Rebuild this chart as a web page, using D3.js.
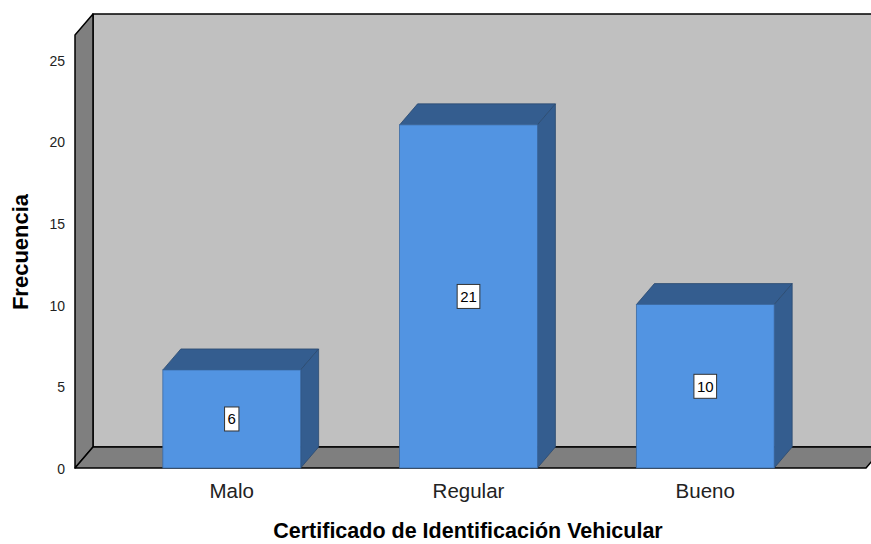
<!DOCTYPE html>
<html>
<head>
<meta charset="utf-8">
<script src="https://cdn.jsdelivr.net/npm/d3@7"></script>
<style>
  body { margin: 0; background: #fff; }
  text { font-family: Arial, "Liberation Sans", sans-serif; }
</style>
</head>
<body>
<div id="chart"></div>
<script>
// data
var categories = ['Malo', 'Regular', 'Bueno'];
var frequencies = [6, 21, 10];
var yTicks = [0, 5, 10, 15, 20, 25];

var width = 871, height = 544;
var depth = { x: 18, y: 21 };   // 3d offset of the back plane

var svg = d3.select('#chart').append('svg')
  .attr('width', width)
  .attr('height', height);

var x = d3.scaleBand()
  .domain(categories)
  .range([75, 862])
  .paddingInner(0.418)
  .paddingOuter(0.371);

var y = d3.scaleLinear()
  .domain([0, 26.5])
  .range([468, 35]);

var x0 = 75, x1 = 866;
var yTop = y(26.5), yBase = y(0);

// back wall
svg.append('rect')
  .attr('x', x0 + depth.x)
  .attr('y', yTop - depth.y)
  .attr('width', width)
  .attr('height', yBase - yTop)
  .attr('fill', '#c0c0c0')
  .attr('stroke', '#000')
  .attr('stroke-width', 1.5);

// left wall
svg.append('path')
  .attr('d', d3.line()([
    [x0, yTop], [x0 + depth.x, yTop - depth.y],
    [x0 + depth.x, yBase - depth.y], [x0, yBase]
  ]) + 'Z')
  .attr('fill', '#7f7f7f')
  .attr('stroke', '#000')
  .attr('stroke-width', 1.5)
  .attr('stroke-linejoin', 'round');

// floor
svg.append('path')
  .attr('d', d3.line()([
    [x0, yBase], [x0 + depth.x, yBase - depth.y],
    [x1 + depth.x, yBase - depth.y], [x1, yBase]
  ]) + 'Z')
  .attr('fill', '#7f7f7f')
  .attr('stroke', '#000')
  .attr('stroke-width', 1.5)
  .attr('stroke-linejoin', 'round');

// bars
var bars = svg.selectAll('g.bar')
  .data(categories.map(function (c, i) { return { cat: c, value: frequencies[i] }; }))
  .join('g')
  .attr('class', 'bar');

bars.append('path')   // top face
  .attr('d', function (d) {
    var l = x(d.cat), r = l + x.bandwidth(), t = y(d.value);
    return d3.line()([[l, t], [l + depth.x, t - depth.y], [r + depth.x, t - depth.y], [r, t]]) + 'Z';
  })
  .attr('fill', '#345d8f')
  .attr('stroke', '#2b4a70')
  .attr('stroke-width', 0.8);

bars.append('path')   // side face
  .attr('d', function (d) {
    var r = x(d.cat) + x.bandwidth(), t = y(d.value);
    return d3.line()([[r, t], [r + depth.x, t - depth.y], [r + depth.x, yBase - depth.y], [r, yBase]]) + 'Z';
  })
  .attr('fill', '#345d8f')
  .attr('stroke', '#2b4a70')
  .attr('stroke-width', 0.8);

bars.append('rect')   // front face
  .attr('x', function (d) { return x(d.cat); })
  .attr('y', function (d) { return y(d.value); })
  .attr('width', x.bandwidth())
  .attr('height', function (d) { return yBase - y(d.value); })
  .attr('fill', '#5294e2')
  .attr('stroke', '#3b6aa3')
  .attr('stroke-width', 0.8);

// value labels
bars.each(function (d) {
  var g = d3.select(this);
  var cx = x(d.cat) + x.bandwidth() / 2, cy = y(d.value / 2);
  var txt = g.append('text')
    .attr('x', cx)
    .attr('y', cy + 5.5)
    .attr('text-anchor', 'middle')
    .attr('font-size', 15)
    .attr('fill', '#000')
    .text(d.value);
  var w = txt.node().getComputedTextLength() + 6;
  g.insert('rect', 'text:last-of-type')
    .attr('x', cx - w / 2)
    .attr('y', cy - 12)
    .attr('width', w)
    .attr('height', 24)
    .attr('fill', '#fff')
    .attr('stroke', '#333')
    .attr('stroke-width', 1);
});

// y axis labels
svg.append('g')
  .selectAll('text')
  .data(yTicks)
  .join('text')
  .attr('x', 65)
  .attr('y', function (d) { return y(d) + 6; })
  .attr('text-anchor', 'end')
  .attr('font-size', 14)
  .attr('fill', '#222')
  .text(function (d) { return d; });

// x axis labels
svg.append('g')
  .selectAll('text')
  .data(categories)
  .join('text')
  .attr('x', function (d) { return x(d) + x.bandwidth() / 2; })
  .attr('y', 498)
  .attr('text-anchor', 'middle')
  .attr('font-size', 20.5)
  .attr('fill', '#222')
  .text(function (d) { return d; });

// titles
svg.append('text')
  .attr('x', 468)
  .attr('y', 538)
  .attr('text-anchor', 'middle')
  .attr('font-size', 21.5)
  .attr('font-weight', 'bold')
  .attr('fill', '#000')
  .text('Certificado de Identificación Vehicular');

svg.append('text')
  .attr('transform', 'translate(28,252) rotate(-90)')
  .attr('text-anchor', 'middle')
  .attr('font-size', 22)
  .attr('font-weight', 'bold')
  .attr('fill', '#000')
  .text('Frecuencia');
</script>
</body>
</html>
